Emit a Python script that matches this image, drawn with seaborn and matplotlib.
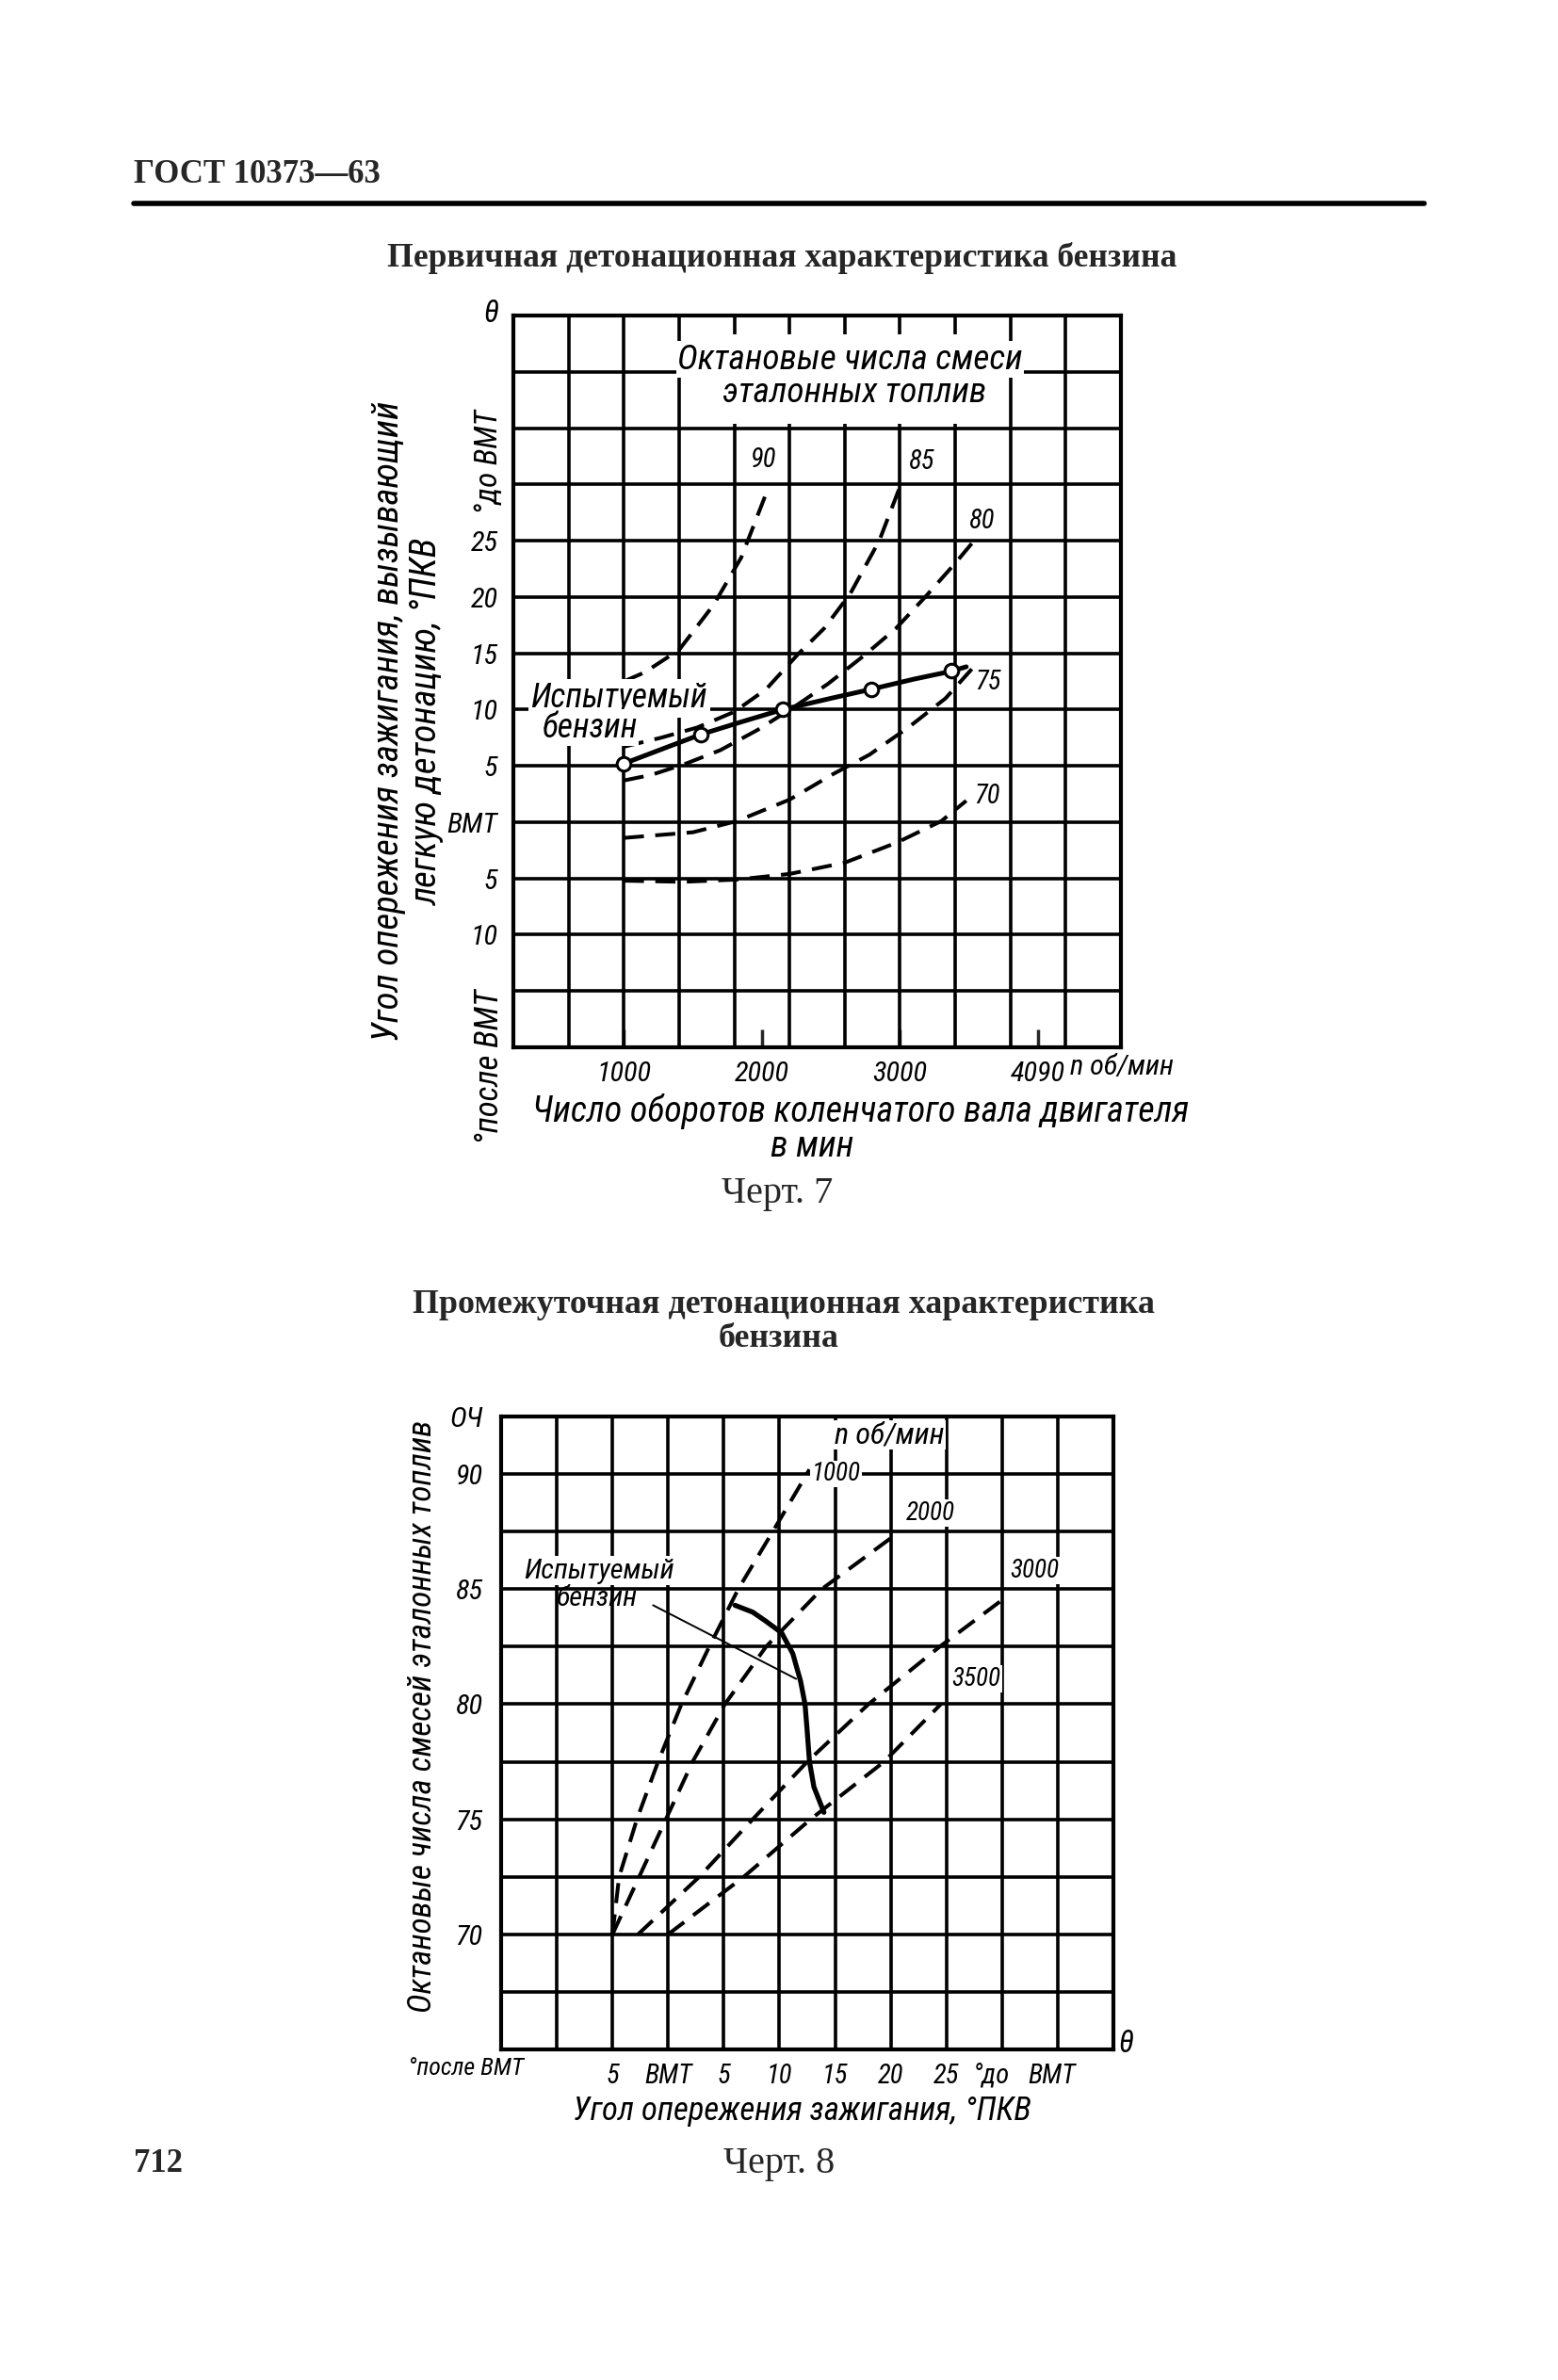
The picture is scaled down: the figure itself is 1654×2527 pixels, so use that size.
import matplotlib
matplotlib.use("Agg")
import matplotlib.pyplot as plt
from matplotlib import font_manager as fm
from matplotlib.ticker import MultipleLocator, FixedLocator
from matplotlib.patches import Rectangle
import seaborn as sns

# ---------------- Chart 7 data (rpm, degrees; + before TDC, - after TDC) ----------------
oct90_rpm = [1000, 1150, 1400, 1650, 1850, 2050]
oct90_deg = [12.5, 13.3, 15.3, 19.3, 23.5, 29.8]

oct85_rpm = [1000, 1270, 1530, 1800, 2030, 2260, 2450, 2640, 2850, 3000]
oct85_deg = [6.7, 7.5, 8.4, 9.8, 11.8, 14.9, 17.2, 20.3, 25.0, 29.8]

oct80_rpm = [1000, 1200, 1450, 1700, 1970, 2230, 2480, 2740, 2970, 3190, 3400, 3530]
oct80_deg = [3.7, 4.2, 5.2, 6.4, 8.2, 10.2, 12.3, 14.8, 17.2, 20.1, 23.0, 24.9]

oct75_rpm = [1000, 1500, 1820, 2200, 2520, 2780, 3070, 3330, 3520]
oct75_deg = [-1.4, -0.9, 0.1, 2.0, 4.3, 6.0, 8.5, 11.0, 13.6]

oct70_rpm = [1000, 1430, 1820, 2200, 2600, 2980, 3300, 3480]
oct70_deg = [-5.2, -5.3, -5.1, -4.6, -3.6, -1.8, 0.1, 1.9]

tested_line_rpm = [1000, 1300, 1560, 1850, 2150, 2500, 2790, 3100, 3370, 3480]
tested_line_deg = [5.2, 6.6, 7.8, 8.9, 10.0, 11.0, 11.8, 12.7, 13.4, 13.8]
tested_pts_rpm = [1000, 1560, 2150, 2790, 3370]
tested_pts_deg = [5.2, 7.8, 10.0, 11.8, 13.5]

oct_labels7 = ["90", "85", "80", "75", "70"]
oct_label_rpm = [2010, 3150, 3590, 3640, 3630]
oct_label_deg = [32.2, 32.0, 26.8, 12.5, 2.3]

xticks7 = [1000, 2000, 3000, 4000]
xticklabels7 = ["1000", "2000", "3000", "4090"]
yticks7 = [-10, -5, 0, 5, 10, 15, 20, 25]
yticklabels7 = ["10", "5", "ВМТ", "5", "10", "15", "20", "25"]

# ---------------- Chart 8 data (degrees, octane number) ----------------
n1000_deg = [-5.0, -4.4, -2.8, -0.9, 1.2, 3.7, 6.3, 9.4, 12.7]
n1000_on = [70, 72.5, 75, 77.5, 80, 82.5, 85, 87.5, 90.2]
n2000_deg = [-5.0, -2.6, -0.2, 2.2, 5.1, 8.8, 13.8, 20.8]
n2000_on = [70, 72.5, 75, 77.5, 80, 82.5, 85, 87.5]
n3000_deg = [-2.7, 2.8, 7.6, 12.5, 18.0, 24.4, 30.2]
n3000_on = [70, 72.5, 75, 77.5, 80, 82.5, 84.6]
n3500_deg = [0.0, 6.8, 12.8, 19.4, 24.5]
n3500_on = [70, 72.5, 75, 77.5, 80]
tested8_deg = [6.0, 7.6, 8.8, 10.2, 11.2, 11.9, 12.3, 12.5, 12.7, 13.1, 14.0]
tested8_on = [84.3, 84.0, 83.6, 83.1, 82.2, 81.0, 80.0, 78.8, 77.5, 76.4, 75.3]

rpm_labels8 = ["1000", "2000", "3000", "3500"]
rpm_label_deg = [15.1, 23.6, 32.9, 27.7]
rpm_label_on = [90.0, 88.3, 85.8, 81.1]

xticks8 = [-5, 0, 5, 10, 15, 20, 25, 29.0, 34.5]
xticklabels8 = ["5", "ВМТ", "5", "10", "15", "20", "25", "°до", "ВМТ"]
yticks8 = [70, 75, 80, 85, 90, 92.5]
yticklabels8 = ["70", "75", "80", "85", "90", "ОЧ"]

# ---------------- fonts ----------------
sns.set_theme(style="white")
_fonts = [(f.name, f.stretch) for f in fm.fontManager.ttflist]
_names = {n for n, _ in _fonts}
if "Roboto Condensed" in _names:
    NARROW, STRETCH, WF = "Roboto Condensed", "normal", 0.80
elif "Liberation Sans Narrow" in _names:
    NARROW, STRETCH, WF = "Liberation Sans Narrow", "condensed", 0.78
elif "DejaVu Sans Condensed" in _names:
    NARROW, STRETCH, WF = "DejaVu Sans Condensed", "normal", 0.90
elif ("DejaVu Sans", "condensed") in _fonts:
    NARROW, STRETCH, WF = "DejaVu Sans", "condensed", 0.90
elif "Roboto" in _names:
    NARROW, STRETCH, WF = "Roboto", "normal", 0.90
else:
    NARROW, STRETCH, WF = "DejaVu Sans", "normal", 1.0

SANS = [NARROW, "DejaVu Sans"]
SERIF = ["Liberation Serif", "DejaVu Serif"]
plt.rcParams["font.family"] = SANS
plt.rcParams["axes.linewidth"] = 3


def fs(s):
    return s / WF


LAB = dict(family=SANS, style="italic", stretch=STRETCH, color="black")
WHITEBOX = dict(facecolor="white", edgecolor="none", pad=1.0)

W, H = 1654, 2527
fig = plt.figure(figsize=(W / 100, H / 100), dpi=100)
fig.patch.set_facecolor("white")


def ftext(px, py, s, **kw):
    fig.text(px / W, 1 - py / H, s, **kw)


def make_axes(l, t, r, b):
    return fig.add_axes([l / W, 1 - b / H, (r - l) / W, (b - t) / H])


DASH = (0, (5.3, 3.0))
DASH_LW = 2.9
GRID_LW = 2.6

# ---------------- header ----------------
ftext(142, 186, "ГОСТ 10373—63", family=SERIF, weight="bold", fontsize=25, va="center", ha="left")
fig.add_artist(plt.Line2D([142 / W, 1512 / W], [1 - 216 / H, 1 - 216 / H], color="black", lw=4,
                          transform=fig.transFigure))
ftext(830, 274, "Первичная детонационная характеристика бензина", family=SERIF, weight="bold",
      fontsize=25.7, ha="center", va="center")

# ---------------- Chart 7 ----------------
ax1 = make_axes(545, 335, 1190, 1112)
ax1.set_xlim(200, 4600)
ax1.set_ylim(-20, 45)
ax1.set_axisbelow(True)
ax1.xaxis.set_minor_locator(MultipleLocator(400, offset=200))
ax1.yaxis.set_minor_locator(MultipleLocator(5))
ax1.xaxis.remove_overlapping_locs = False
ax1.yaxis.remove_overlapping_locs = False
ax1.grid(True, which="minor", color="black", lw=GRID_LW)
ax1.grid(False, which="major")
ax1.xaxis.set_major_locator(FixedLocator(xticks7))
ax1.set_xticklabels(xticklabels7, **LAB, fontsize=fs(17.5))
ax1.yaxis.set_major_locator(FixedLocator(yticks7))
ax1.set_yticklabels(yticklabels7, **LAB, fontsize=fs(17.5))
ax1.tick_params(axis="x", which="major", direction="in", length=14, width=2.5, pad=10, bottom=True)
ax1.tick_params(axis="y", which="major", length=0, pad=12)
ax1.tick_params(which="minor", length=0)
for s in ax1.spines.values():
    s.set_linewidth(3)
    s.set_color("black")

# blank box for the legend caption
ax1.add_patch(Rectangle((1425, 35.4), 2350, 7.9, facecolor="white", edgecolor="none", zorder=1))

curves7 = [(oct90_rpm, oct90_deg), (oct85_rpm, oct85_deg), (oct80_rpm, oct80_deg),
           (oct75_rpm, oct75_deg), (oct70_rpm, oct70_deg)]
for xr, yd in curves7:
    sns.lineplot(x=xr, y=yd, ax=ax1, sort=False, estimator=None, color="black",
                 lw=DASH_LW, linestyle=DASH, legend=False, zorder=2)
sns.lineplot(x=tested_line_rpm, y=tested_line_deg, ax=ax1, sort=False, estimator=None,
             color="black", lw=3.6, legend=False, zorder=3)
sns.scatterplot(x=tested_pts_rpm, y=tested_pts_deg, ax=ax1, s=110, color="white",
                edgecolor="black", linewidth=2.2, zorder=4, legend=False)
for lab, xr, yd in zip(oct_labels7, oct_label_rpm, oct_label_deg):
    ax1.text(xr, yd, lab, **LAB, fontsize=fs(16.5), ha="center", va="center", zorder=5)

ax1.text(2640, 41.1, "Октановые числа смеси", **LAB, fontsize=fs(21.5), ha="center", va="center",
         bbox=WHITEBOX, zorder=5)
ax1.text(2670, 38.1, "эталонных топлив", **LAB, fontsize=fs(21.5), ha="center", va="center",
         zorder=5)
ax1.text(966, 11.0, "Испытуемый", **LAB, fontsize=fs(20.5), ha="center", va="center",
         bbox=dict(facecolor="white", edgecolor="none", pad=2.0), zorder=5)
ax1.text(752, 8.4, "бензин", **LAB, fontsize=fs(20.5), ha="center", va="center",
         bbox=dict(facecolor="white", edgecolor="none", pad=1.0), zorder=5)

ftext(521, 333, "θ", **LAB, fontsize=fs(19), ha="center", va="center")
ftext(519, 490, "°до ВМТ", **LAB, fontsize=fs(19), ha="center", va="center", rotation=90)
ftext(519, 1133, "°после ВМТ", **LAB, fontsize=fs(20), ha="center", va="center", rotation=90)
ftext(1136, 1133, "n об/мин", **LAB, fontsize=fs(17.5), ha="left", va="center")
ftext(433, 766, "Угол опережения зажигания, вызывающий\nлегкую детонацию, °ПКВ", **LAB,
      fontsize=fs(22.3), ha="center", va="center", rotation=90, linespacing=1.15)
ftext(914, 1180, "Число оборотов коленчатого вала двигателя", **LAB, fontsize=fs(21.9),
      ha="center", va="center")
ftext(862, 1217, "в мин", **LAB, fontsize=fs(21.9), ha="center", va="center")
ftext(825, 1267, "Черт. 7", family=SERIF, fontsize=29, ha="center", va="center")

# ---------------- Chart 8 ----------------
ftext(832, 1386, "Промежуточная детонационная характеристика", family=SERIF, weight="bold",
      fontsize=25.8, ha="center", va="center")
ftext(827, 1422, "бензина", family=SERIF, weight="bold", fontsize=25.8, ha="center", va="center")

ax2 = make_axes(532, 1504, 1182, 2176)
ax2.set_xlim(-15, 40)
ax2.set_ylim(65, 92.5)
ax2.set_axisbelow(True)
ax2.xaxis.set_minor_locator(MultipleLocator(5))
ax2.yaxis.set_minor_locator(MultipleLocator(2.5))
ax2.xaxis.remove_overlapping_locs = False
ax2.yaxis.remove_overlapping_locs = False
ax2.grid(True, which="minor", color="black", lw=GRID_LW)
ax2.grid(False, which="major")
ax2.xaxis.set_major_locator(FixedLocator(xticks8))
ax2.set_xticklabels(xticklabels8, **LAB, fontsize=fs(16.5))
ax2.yaxis.set_major_locator(FixedLocator(yticks8))
ax2.set_yticklabels(yticklabels8, **LAB, fontsize=fs(17.5))
ax2.tick_params(which="both", length=0)
ax2.tick_params(axis="x", which="major", pad=10)
ax2.tick_params(axis="y", which="major", pad=14)
for s in ax2.spines.values():
    s.set_linewidth(3)
    s.set_color("black")

for xd, yo in [(n1000_deg, n1000_on), (n2000_deg, n2000_on), (n3000_deg, n3000_on),
               (n3500_deg, n3500_on)]:
    sns.lineplot(x=xd, y=yo, ax=ax2, sort=False, estimator=None, color="black",
                 lw=DASH_LW, linestyle=DASH, legend=False, zorder=2)
sns.lineplot(x=tested8_deg, y=tested8_on, ax=ax2, sort=False, estimator=None, color="black",
             lw=3.8, legend=False, zorder=3)
for lab, xd, yo in zip(rpm_labels8, rpm_label_deg, rpm_label_on):
    ax2.text(xd, yo, lab, **LAB, fontsize=fs(15.7), ha="center", va="center", bbox=WHITEBOX,
             zorder=5)
ax2.text(19.9, 91.7, "n об/мин", **LAB, fontsize=fs(18.5), ha="center", va="center",
         bbox=WHITEBOX, zorder=5)
ax2.text(-6.2, 85.8, "Испытуемый", **LAB, fontsize=fs(17.5), ha="center", va="center",
         bbox=WHITEBOX, zorder=5)
ax2.text(-6.4, 84.6, "бензин", **LAB, fontsize=fs(17.5), ha="center", va="center", zorder=5)
ax2.plot([-1.35, 11.5], [84.3, 81.1], color="black", lw=1.4, zorder=3)

ftext(495, 2196, "°после ВМТ", **LAB, fontsize=fs(15), ha="center", va="center")
ftext(1195, 2170, "θ", **LAB, fontsize=fs(19), ha="center", va="center")
ftext(448, 1822, "Октановые числа смесей эталонных топлив", **LAB, fontsize=fs(20.2),
      ha="center", va="center", rotation=90)
ftext(851, 2241, "Угол опережения зажигания, °ПКВ", **LAB, fontsize=fs(20), ha="center",
      va="center")
ftext(827, 2297, "Черт. 8", family=SERIF, fontsize=29, ha="center", va="center")
ftext(142, 2297, "712", family=SERIF, weight="bold", fontsize=25, ha="left", va="center")

fig.savefig("out.png", dpi=100, facecolor="white")
